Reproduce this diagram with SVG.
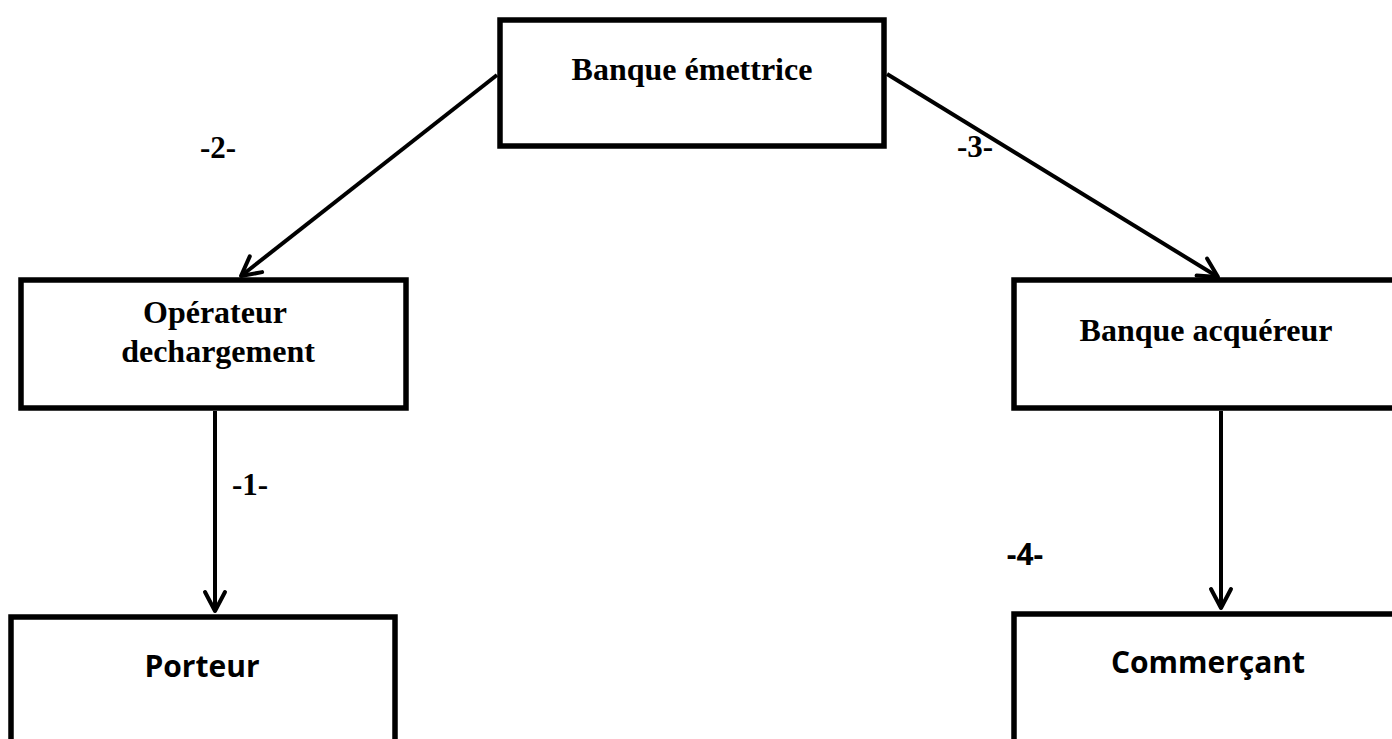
<svg xmlns="http://www.w3.org/2000/svg" width="1392" height="739" viewBox="0 0 1392 739">
<style>
.box{fill:#fff;stroke:#000;stroke-width:5.5}
.ser{font-family:"Liberation Serif","Times New Roman",serif;font-weight:bold;font-size:32px;text-anchor:middle;fill:#000}
.san{font-family:"Open Sans","Noto Sans",sans-serif;font-weight:bold;font-size:30px;text-anchor:middle;fill:#000}
.lbl{font-family:"Liberation Serif","Times New Roman",serif;font-weight:bold;font-size:31px;text-anchor:middle;fill:#000}
.lbls{font-family:"Open Sans","Noto Sans",sans-serif;font-weight:bold;font-size:30px;text-anchor:middle;fill:#000}
.con{fill:none;stroke:#000;stroke-width:4;marker-end:url(#arr)}
</style>
<defs>
<marker id="arr" markerUnits="userSpaceOnUse" viewBox="-24 -14 28 28" markerWidth="28" markerHeight="28" refX="0" refY="0" orient="auto">
<path d="M-19,-10 L0,0 L-19,10" fill="none" stroke="#000" stroke-width="4" stroke-linecap="round" stroke-linejoin="round"/>
</marker>
</defs>
<rect width="1392" height="739" fill="#fff"/>
<g id="connectors">
<line class="con" x1="497" y1="75" x2="241" y2="276"/>
<line class="con" x1="887" y1="74" x2="1218" y2="277"/>
<line class="con" x1="215" y1="411" x2="215" y2="611"/>
<line class="con" x1="1221" y1="411" x2="1221" y2="608"/>
</g>
<g id="labels">
<text class="lbl" x="218" y="158">-2-</text>
<text class="lbl" x="975" y="157">-3-</text>
<text class="lbl" x="250" y="495">-1-</text>
<text class="lbls" x="1025" y="565">-4-</text>
</g>
<g id="node-banque-emettrice">
<rect class="box" x="500" y="20" width="384" height="126"/>
<text class="ser" x="692" y="80">Banque émettrice</text>
</g>
<g id="node-operateur">
<rect class="box" x="21" y="280" width="385" height="128"/>
<text class="ser" x="215" y="323">Opérateur</text>
<text class="ser" x="218" y="362">dechargement</text>
</g>
<g id="node-banque-acquereur">
<rect class="box" x="1014" y="280" width="390" height="128"/>
<text class="ser" x="1206" y="341">Banque acquéreur</text>
</g>
<g id="node-porteur">
<rect class="box" x="11" y="617" width="384" height="140"/>
<text class="san" x="202" y="677">Porteur</text>
</g>
<g id="node-commercant">
<rect class="box" x="1014" y="614" width="390" height="140"/>
<text class="san" x="1208" y="673">Commerçant</text>
</g>
</svg>
